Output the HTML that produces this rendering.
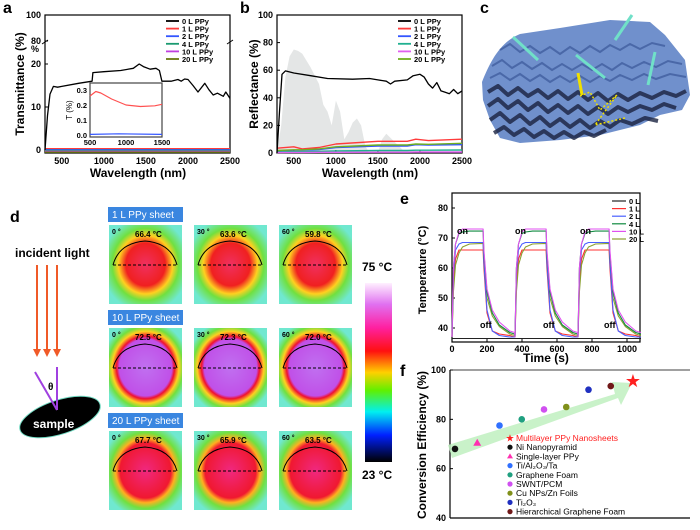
<!DOCTYPE html>
<html><head><meta charset="utf-8"><style>
html,body{margin:0;padding:0;background:#fff;}
svg{display:block;font-family:"Liberation Sans",Arial,sans-serif;}
.t{font-weight:bold;}
</style></head><body>
<svg id="fig" width="700" height="530" viewBox="0 0 700 530" xmlns="http://www.w3.org/2000/svg">
<defs>
<linearGradient id="cbar" x1="0" y1="0" x2="0" y2="1">
<stop offset="0" stop-color="#fff0ff"/><stop offset="0.12" stop-color="#e070f0"/><stop offset="0.25" stop-color="#ff20a0"/><stop offset="0.38" stop-color="#ff1010"/><stop offset="0.5" stop-color="#ffd000"/><stop offset="0.6" stop-color="#60f000"/><stop offset="0.72" stop-color="#00f0f0"/><stop offset="0.85" stop-color="#0020ff"/><stop offset="1" stop-color="#000"/>
</linearGradient>
<radialGradient id="h1" cx="0.5" cy="0.5" r="0.6"><stop offset="0" stop-color="#f03060"/><stop offset="0.45" stop-color="#f02020"/><stop offset="0.62" stop-color="#ffd020"/><stop offset="0.76" stop-color="#70e040"/><stop offset="1" stop-color="#70e8d0"/></radialGradient>
<radialGradient id="h10" cx="0.5" cy="0.5" r="0.6"><stop offset="0" stop-color="#c070f0"/><stop offset="0.6" stop-color="#c050e8"/><stop offset="0.66" stop-color="#f01030"/><stop offset="0.76" stop-color="#ffd020"/><stop offset="0.86" stop-color="#70e040"/><stop offset="1" stop-color="#70e8d0"/></radialGradient>
<radialGradient id="h20" cx="0.5" cy="0.5" r="0.6"><stop offset="0" stop-color="#f02880"/><stop offset="0.58" stop-color="#f01830"/><stop offset="0.68" stop-color="#ffb020"/><stop offset="0.8" stop-color="#70e040"/><stop offset="1" stop-color="#70e8d0"/></radialGradient>
</defs>

<text class="t" x="3" y="13" font-size="16">a</text>
<text class="t" x="240" y="13" font-size="16">b</text>
<text class="t" x="480" y="13" font-size="16">c</text>
<text class="t" x="10" y="222" font-size="16">d</text>
<text class="t" x="400" y="204" font-size="16">e</text>
<text class="t" x="400" y="376" font-size="16">f</text>

<g id="pa"></g>
<g id="pb"></g>

<g>
<path d="M482,82 C490,62 500,42 520,34 L560,28 L610,20 L650,22 L665,35 L685,60 L690,95 L682,110 L660,115 L640,125 L600,135 L560,140 L520,143 L500,138 L490,120 L483,100 Z" fill="#7090cc"/>
<g stroke="#1a2240" stroke-width="4" fill="none" opacity="0.8" stroke-linejoin="round">
<polyline points="488,92 498,86 508,95 518,88 528,96 538,90 548,98 558,91 568,99 578,92 588,100 598,93 608,101 618,94 628,100 640,93 652,98 664,92 676,96 686,91"/>
<polyline points="488,106 498,99 508,108 518,101 528,110 538,103 548,112 558,105 568,113 578,106 588,114 598,107 608,114 618,107 628,112 640,106 652,110 664,104 676,108"/>
<polyline points="490,120 500,113 510,122 520,115 530,124 540,117 550,126 560,119 570,127 580,120 590,128 600,121 610,127 620,120 632,124 645,118 658,121"/>
<polyline points="494,133 504,127 514,135 524,129 534,137 544,131 554,138 564,132 574,138 584,132 594,136 606,130"/>
</g>
<g stroke="#4a68a8" stroke-width="2" fill="none">
<polyline points="500,50 510,44 520,52 530,46 540,53 550,47 560,54 570,47 580,53 590,46 600,52 610,45 620,50 630,44 640,49 652,43 665,46"/>
<polyline points="492,66 502,60 512,68 522,62 532,69 542,63 552,70 562,64 572,70 582,64 592,70 602,64 612,70 622,63 632,68 644,62 656,67 668,61 682,64"/>
<polyline points="490,78 500,73 510,80 520,74 530,81 540,75 550,82 560,76 570,82 580,76 590,82 600,76 610,81 620,75 632,80 644,74 656,79 670,74 686,77"/>
</g>
<g stroke="#70e0c8" stroke-width="3" fill="none"><line x1="513" y1="37" x2="538" y2="60"/><line x1="632" y1="15" x2="615" y2="40"/><line x1="576" y1="55" x2="605" y2="78"/><line x1="655" y1="52" x2="648" y2="85"/></g>
<path d="M578,73 L582,95" stroke="#f0e000" stroke-width="3"/>
<path d="M580,96 L590,92 L600,110 L617,95 L595,125 L625,118" stroke="#f0e000" stroke-width="1.5" stroke-dasharray="2,2" fill="none"/>
</g>

<g>
<text class="t" x="15" y="257" font-size="12">incident light</text>
<g stroke="#f05a28" stroke-width="2">
<line x1="37" y1="265" x2="37" y2="350"/><line x1="47" y1="265" x2="47" y2="350"/><line x1="57" y1="265" x2="57" y2="350"/></g>
<g fill="#f05a28"><polygon points="33,349 41,349 37,357"/><polygon points="43,349 51,349 47,357"/><polygon points="53,349 61,349 57,357"/></g>
<ellipse cx="60" cy="417" rx="42" ry="17" transform="rotate(-18 60 417)" fill="#000" stroke="#6fd8c0" stroke-width="1"/>
<text x="33" y="428" font-size="12" fill="#fff" class="t">sample</text>
<line x1="57" y1="367" x2="57" y2="410" stroke="#a040e0" stroke-width="2"/>
<line x1="35" y1="372" x2="57" y2="410" stroke="#a040e0" stroke-width="2"/>
<text class="t" x="48" y="390" font-size="10">θ</text>
<g id="tiles"></g>
<rect x="365" y="283" width="27" height="179" fill="url(#cbar)"/>
<text class="t" x="362" y="271" font-size="12">75 °C</text>
<text class="t" x="362" y="479" font-size="12">23 °C</text>
</g>

<g id="pe"></g>
<g id="pf"></g>
</svg>
<script>
const NS="http://www.w3.org/2000/svg";
function el(p,tag,at,txt){const e=document.createElementNS(NS,tag);for(const k in at)e.setAttribute(k,at[k]);if(txt!==undefined)e.textContent=txt;p.appendChild(e);return e;}

const aSeriesNames=["0 L PPy","1 L PPy","2 L PPy","4 L PPy","10 L PPy","20 L PPy"];
const aColors=["#000","#ff3b3b","#3355ff","#1a9a70","#c040e0","#6a7a10"];
const a0W=[300,330,360,400,450,500,700,860,870,1000,1200,1350,1420,1470,1550,1620,1660,1690,1800,1880,1920,1960,2000,2060,2120,2200,2250,2300,2350,2420,2450,2500];
const a0T=[0,8,13,14.8,14.6,14.8,15.5,16,18,18.2,18.5,19,20,19.4,18.8,19,18.5,16,16,16.4,16,16.5,16.4,15,13.5,15.5,14,12.8,13.2,12.5,13.5,12];
const aLowW=[300,2500];
const aLowT=[[0.3,0.3],[0.1,0.1],[-0.1,-0.1],[-0.3,-0.3],[-0.5,-0.5]];
const aYTicks=[0,10,20];
const aYTicksTop=[80,100];
const aXTicks=[500,1000,1500,2000,2500];
const insetW=[500,580,650,800,1000,1200,1400,1500];
const insetRed=[0.26,0.29,0.28,0.24,0.2,0.19,0.195,0.205];
const insetBlueW=[500,900,1500];
const insetBlue=[0.004,0.008,0.004];
const insetYTicks=[0.0,0.1,0.2,0.3];
const insetXTicks=[500,1000,1500];

const b0W=[300,330,360,400,500,700,900,1200,1400,1500,1600,1650,1700,1850,1920,2000,2050,2100,2150,2200,2250,2300,2350,2400,2450,2500];
const b0R=[0,30,57,59.5,58,56,54,53.5,54,53,52,50,52,53,56,57,55,50,47,51,45,44,43,46,43,45];
const bLowW=[300,500,600,800,1000,1500,1850,1950,2100,2500];
const bLowR=[[3.5,4.5,3,4,6.5,8.5,8.5,10,9,10],[1.5,2,2,2.5,4,5,5,6,5.8,6],[0.8,1,1,1.2,1.5,1.8,1.8,2,2,2.2],[0.3,0.4,0.4,0.5,0.5,0.6,0.6,0.7,0.7,0.7],[1.8,2.3,2.3,3,4.5,5.8,5.8,6.5,6.3,7]];
const solarW=[300,350,400,450,500,550,600,700,800,850,900,950,1000,1050,1100,1150,1200,1250,1300,1350,1400,1500,1550,1600,1700,1800,2500];
const solarR=[0,20,55,70,75,74,72,62,50,35,30,20,38,30,10,15,22,25,20,5,0,0,10,14,8,2,0];
const bYTicks=[0,20,40,60,80,100];
const bXTicks=[500,1000,1500,2000,2500];

const eNames=["0 L","1 L","2 L","4 L","10 L","20 L"];
const eColors=["#222","#ff3030","#4a60ff","#108a40","#e050f0","#8aa030"];
const eCycleT=[0,8,20,40,60,100,178,182,200,230,270,330,358];
const eCycleStarts=[0,360,720];
const eS0=[36.5,36.5,36.5,36.5,36.5,36.5,36.5,36.5,36.5,36.5,36.5,36.5,36.5];
const eS1=[37,55,63,66,66,66,66,60,45,39,38,37.5,37];
const eS2=[37,58,66,68,68.5,68.5,68.5,62,46,39,37.5,37,37];
const eS4=[37,60,68,71.5,72,72.3,72.3,65,52,45,41,38.5,38];
const eS10=[37,60,68,72,73,73,73,66,53,46,42,39,38.5];
const eS20=[37,52,61,65,67,68,68.2,62,50,44,40.5,38,37.5];
const eYTicks=[40,50,60,70,80];
const eXTicks=[0,200,400,600,800,1000];

const fLabels=["Ni Nanopyramid","Single-layer PPy","Ti/Al₂O₃/Ta","Graphene Foam","SWNT/PCM","Cu NPs/Zn Foils","Ti₂O₃","Hierarchical Graphene Foam","Multilayer PPy Nanosheets"];
const fValues=[68,70.5,77.5,80,84,85,92,93.5,95.5];
const fColors=["#111","#ff30b0","#3070ff","#20a080","#d050f0","#80901a","#2030c0","#701818","#ff2020"];
const fYTicks=[40,60,80,100];

function lin(d0,d1,r0,r1){return v=>r0+(v-d0)*(r1-r0)/(d1-d0);}
function poly(p,xs,ys,sx,sy,col,w,name){const pts=xs.map((x,i)=>sx(x).toFixed(1)+","+sy(ys[i]).toFixed(1)).join(" ");const e=el(p,"polyline",{points:pts,fill:"none",stroke:col,"stroke-width":w,"stroke-linejoin":"round"});


return e;}

(function(){
const g=document.getElementById("pa");
const L=45,R=230,T=15,B=153;
const sx=lin(300,2500,L,R);
const syLow=lin(0,20,150,64);
const syTop=lin(80,100,41,15);
el(g,"rect",{x:L,y:T,width:R-L,height:B-T,fill:"none",stroke:"#000","stroke-width":1.2});
aYTicks.forEach(v=>{const y=syLow(v);el(g,"line",{x1:L,y1:y,x2:L+3,y2:y,stroke:"#000"});const t=el(g,"text",{x:L-4,y:y+3,"font-size":9,"text-anchor":"end",class:"t"},v);

});
aYTicksTop.forEach(v=>{const y=syTop(v);el(g,"line",{x1:L,y1:y,x2:L+3,y2:y,stroke:"#000"});const t=el(g,"text",{x:L-4,y:y+3,"font-size":9,"text-anchor":"end",class:"t"},v);

});
el(g,"text",{x:L-14,y:52,"font-size":9,class:"t"},"%");
el(g,"line",{x1:L-3,y1:44,x2:L+3,y2:40,stroke:"#000"});el(g,"line",{x1:R-3,y1:44,x2:R+3,y2:40,stroke:"#000"});
aXTicks.forEach(v=>{const x=sx(v);el(g,"line",{x1:x,y1:B,x2:x,y2:B-3,stroke:"#000"});const t=el(g,"text",{x:x,y:B+11,"font-size":9,"text-anchor":"middle",class:"t"},v);

});
const yl=el(g,"text",{x:0,y:0,"font-size":12,"text-anchor":"middle",class:"t",transform:"translate(24,84) rotate(-90)"},"Transmittance (%)");


const xl=el(g,"text",{x:138,y:177,"font-size":12,"text-anchor":"middle",class:"t"},"Wavelength (nm)");


aLowT.forEach((ys,i)=>poly(g,aLowW,ys,sx,syLow,aColors[i+1],1.3,"series-"+(i+1)));
poly(g,a0W,a0T,sx,syLow,aColors[0],1.3,"series-0L");
aSeriesNames.forEach((n,i)=>{const y=24+i*7.6;el(g,"line",{x1:166,y1:y-3,x2:179,y2:y-3,stroke:aColors[i],"stroke-width":1.8});const t=el(g,"text",{x:182,y:y,"font-size":7.5,class:"t"},n);

});
const iL=90,iR=162,iT=83,iB=137;
const ix=lin(500,1500,iL,iR),iy=lin(0,0.33,135,85.5);
el(g,"rect",{x:iL,y:iT,width:iR-iL,height:iB-iT,fill:"#fff",stroke:"#444","stroke-width":1.2});
insetYTicks.forEach(v=>{const t=el(g,"text",{x:iL-3,y:iy(v)+3,"font-size":7.5,"text-anchor":"end",class:"t"},v.toFixed(1));

});
insetXTicks.forEach(v=>{const t=el(g,"text",{x:ix(v),y:iB+8,"font-size":7.5,"text-anchor":"middle",class:"t"},v);

});
el(g,"text",{x:0,y:0,"font-size":8,"text-anchor":"middle",transform:"translate(72,110) rotate(-90)"},"T (%)");
poly(g,insetW,insetRed,ix,iy,"#ff5050",1.2,"inset-series-1L");
poly(g,insetBlueW,insetBlue,ix,iy,"#3355ff",1.2,"inset-series-2L");
})();

(function(){
const g=document.getElementById("pb");
const L=277,R=462,T=15,B=153;
const sx=lin(300,2500,L,R),sy=lin(0,100,B,T);
const sp=solarW.map((w,i)=>sx(w).toFixed(1)+","+sy(solarR[i]).toFixed(1)).join(" ");
const s=el(g,"polygon",{points:sp,fill:"#e4e6e6"});


el(g,"rect",{x:L,y:T,width:R-L,height:B-T,fill:"none",stroke:"#000","stroke-width":1.2});
bYTicks.forEach(v=>{const y=sy(v);el(g,"line",{x1:L,y1:y,x2:L+3,y2:y,stroke:"#000"});const t=el(g,"text",{x:L-4,y:y+3,"font-size":9,"text-anchor":"end",class:"t"},v);

});
bXTicks.forEach(v=>{const x=sx(v);el(g,"line",{x1:x,y1:B,x2:x,y2:B-3,stroke:"#000"});const t=el(g,"text",{x:x,y:B+11,"font-size":9,"text-anchor":"middle",class:"t"},v);

});
const yl=el(g,"text",{x:0,y:0,"font-size":12,"text-anchor":"middle",class:"t",transform:"translate(258,84) rotate(-90)"},"Reflectance (%)");


const xl=el(g,"text",{x:370,y:177,"font-size":12,"text-anchor":"middle",class:"t"},"Wavelength (nm)");


const bc=["#ff3b3b","#3355ff","#20b090","#e060f0","#70b020"];
bLowR.forEach((ys,i)=>poly(g,bLowW,ys,sx,sy,bc[i],1.4,"series-"+(i+1)));
poly(g,b0W,b0R,sx,sy,"#000",1.3,"series-0L");
const lc=["#000"].concat(bc);
aSeriesNames.forEach((n,i)=>{const y=24+i*7.6;el(g,"line",{x1:398,y1:y-3,x2:411,y2:y-3,stroke:lc[i],"stroke-width":1.8});const t=el(g,"text",{x:414,y:y,"font-size":7.5,class:"t"},n);

});
})();

(function(){
const g=document.getElementById("tiles");
const rows=[{y:225,h:"1 L PPy sheet",g:"h1",t:["66.4 °C","63.6 °C","59.8 °C"]},{y:328,h:"10 L PPy sheet",g:"h10",t:["72.5 °C","72.3 °C","72.0 °C"]},{y:431,h:"20 L PPy sheet",g:"h20",t:["67.7 °C","65.9 °C","63.5 °C"]}];
const cols=[109,194,279],ang=["0 °","30 °","60 °"];
rows.forEach(r=>{
const hb=el(g,"rect",{x:108,y:r.y-18,width:75,height:15,fill:"#3a86e0"});


el(g,"text",{x:112,y:r.y-7,"font-size":10,fill:"#fff"},r.h);
cols.forEach((x,i)=>{
const tl=el(g,"rect",{x:x,y:r.y,width:73,height:79,fill:"url(#"+r.g+")"});


el(g,"text",{x:x+3,y:r.y+9,"font-size":7,class:"t"},ang[i]);
el(g,"text",{x:x+26,y:r.y+12,"font-size":8,class:"t"},r.t[i]);
el(g,"path",{d:`M${x+4},${r.y+40} Q${x+10},${r.y+18} ${x+36},${r.y+16} Q${x+62},${r.y+18} ${x+68},${r.y+40}`,fill:"none",stroke:"#000","stroke-width":1});
el(g,"line",{x1:x+4,y1:r.y+40,x2:x+68,y2:r.y+40,stroke:"#000","stroke-dasharray":"3,2"});
});});
})();

(function(){
const g=document.getElementById("pe");
const L=452,R=640,T=193,B=342;
const sx=lin(0,1000,L,627),sy=lin(80,40,208,328);
el(g,"rect",{x:L,y:T,width:R-L,height:B-T,fill:"none",stroke:"#000","stroke-width":1.2});
eYTicks.forEach(v=>{const y=sy(v);el(g,"line",{x1:L,y1:y,x2:L+3,y2:y,stroke:"#000"});const t=el(g,"text",{x:L-4,y:y+3,"font-size":9,"text-anchor":"end",class:"t"},v);

});
eXTicks.forEach(v=>{const x=sx(v);el(g,"line",{x1:x,y1:B,x2:x,y2:B-3,stroke:"#000"});const t=el(g,"text",{x:x,y:B+10,"font-size":9,"text-anchor":"middle",class:"t"},v);

});
const yl=el(g,"text",{x:0,y:0,"font-size":11,"text-anchor":"middle",class:"t",transform:"translate(426,270) rotate(-90)"},"Temperature (°C)");


const xl=el(g,"text",{x:546,y:362,"font-size":12,"text-anchor":"middle",class:"t"},"Time (s)");


const series=[eS0,eS1,eS2,eS4,eS10,eS20];
const order=[0,1,5,2,3,4];
order.forEach(i=>{const xs=[],ys=[];eCycleStarts.forEach(s=>eCycleT.forEach((t,k)=>{xs.push(s+t);ys.push(series[i][k]);}));xs.push(1080);ys.push(series[i][series[i].length-1]);poly(g,xs,ys,sx,sy,eColors[i],1.1,"series-"+eNames[i].replace(" ",""));});
[457,515,580].forEach(x=>el(g,"text",{x:x,y:234,"font-size":9,class:"t"},"on"));
[480,543,604].forEach(x=>el(g,"text",{x:x,y:328,"font-size":9,class:"t"},"off"));
eNames.forEach((n,i)=>{const y=204+i*7.6;el(g,"line",{x1:612,y1:y-3,x2:626,y2:y-3,stroke:eColors[i],"stroke-width":1.2});const t=el(g,"text",{x:629,y:y,"font-size":7.5,class:"t"},n);

});
})();

(function(){
const g=document.getElementById("pf");
const L=450,R=690,T=370,B=518;
const sy=lin(40,100,518,370);
const sx=lin(0,8,455,633);
el(g,"line",{x1:L,y1:T,x2:L,y2:B,stroke:"#000","stroke-width":1.2});
el(g,"line",{x1:L,y1:B,x2:R,y2:B,stroke:"#000","stroke-width":1.2});
el(g,"line",{x1:L,y1:T,x2:R,y2:T,stroke:"#000","stroke-width":0.8});
fYTicks.forEach(v=>{const y=sy(v);el(g,"line",{x1:L,y1:y,x2:L+3,y2:y,stroke:"#000"});const t=el(g,"text",{x:L-4,y:y+3,"font-size":9,"text-anchor":"end",class:"t"},v);

});
const yl=el(g,"text",{x:0,y:0,"font-size":12,"text-anchor":"middle",class:"t",transform:"translate(426,445) rotate(-90)"},"Conversion Efficiency (%)");


const ar=el(g,"polygon",{points:"448,445 615,394 612,382 632,383 621,405 618,398 452,458",fill:"#bff0c0",opacity:0.85});


fValues.forEach((v,i)=>{const x=sx(i),y=sy(v);let m;
if(i===8){m=el(g,"text",{x:x,y:y+6,"font-size":18,"text-anchor":"middle",fill:fColors[i]},"★");}
else if(i===1){m=el(g,"polygon",{points:`${x},${y-4} ${x-4},${y+3} ${x+4},${y+3}`,fill:fColors[i]});}
else{m=el(g,"circle",{cx:x,cy:y,r:3.3,fill:fColors[i]});}

});
const lx=514;
const order=[8,0,1,2,3,4,5,6,7];
order.forEach((i,k)=>{const y=438+k*9.2;
if(i===8)el(g,"text",{x:lx-4,y:y+3.5,"font-size":10,"text-anchor":"middle",fill:fColors[i]},"★");
else if(i===1)el(g,"polygon",{points:`${lx-4},${y-3} ${lx-7},${y+2} ${lx-1},${y+2}`,fill:fColors[i]});
else el(g,"circle",{cx:lx-4,cy:y,r:2.6,fill:fColors[i]});
const t=el(g,"text",{x:lx+2,y:y+3,"font-size":8.5,fill:i===8?"#ff2020":"#000"},fLabels[i]);

});
})();
</script>
</body></html>
